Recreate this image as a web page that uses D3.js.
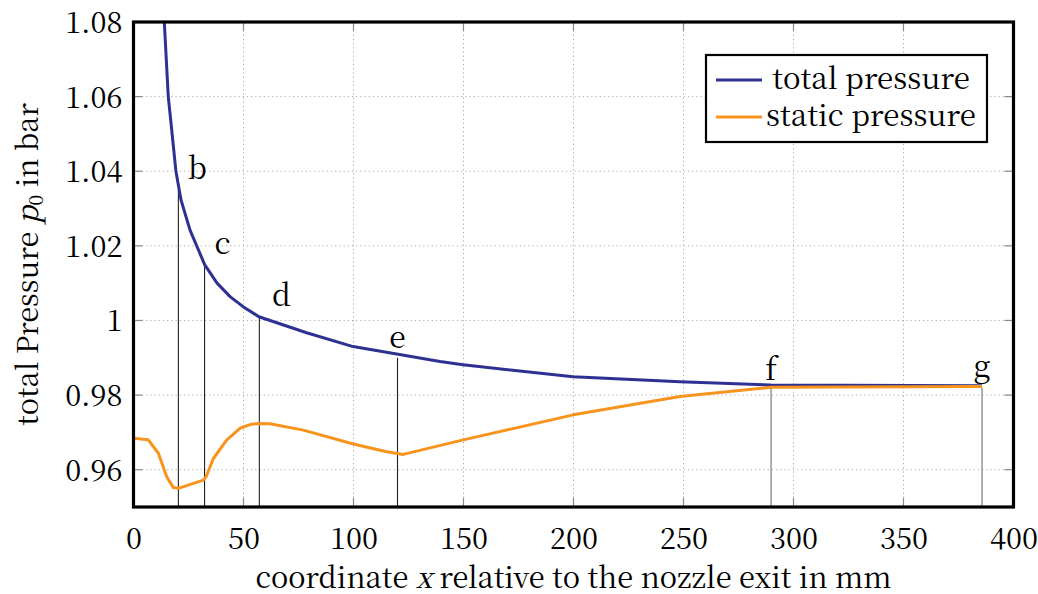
<!DOCTYPE html>
<html>
<head>
<meta charset="utf-8">
<script src="https://cdn.jsdelivr.net/npm/d3@7"></script>
<style>
  html, body { margin: 0; padding: 0; background: #fff; }
</style>
</head>
<body>
<svg id="chart" width="1038" height="594"></svg>
<script>
// Distance from the nozzle exit (mm) and pressures (bar)
const totalX = [14.0, 15.8, 16.6, 19.3, 21.6, 25.7, 32.4, 38.0, 43.9, 49.8, 57.0, 78.7, 99.8, 119.6, 139.3, 149.8, 199.8, 248.4, 289.8, 385.7];
const totalP = [1.080, 1.060, 1.0555, 1.0399, 1.0323, 1.0242, 1.0149, 1.0100, 1.0064, 1.0037, 1.0010, 0.9967, 0.9930, 0.9910, 0.9890, 0.9881, 0.9849, 0.9836, 0.9827, 0.9825];

const staticX = [0, 6.7, 11.3, 15.1, 18.1, 20.4, 31.7, 33.0, 36.3, 42.4, 48.4, 53.0, 57.2, 62.0, 77.2, 99.9, 115.1, 122.6, 149.9, 199.9, 248.4, 289.8, 385.7];
const staticP = [0.9684, 0.9680, 0.9644, 0.9581, 0.9552, 0.9550, 0.9572, 0.9581, 0.9630, 0.9680, 0.9711, 0.9721, 0.9724, 0.9723, 0.9706, 0.9669, 0.9648, 0.9641, 0.9680, 0.9747, 0.9796, 0.9821, 0.9823];

// Measurement stations
const stationNames = ["b", "c", "d", "e", "f", "g"];
const stationX = [20.4, 32.3, 57.2, 120.0, 289.8, 385.7];
const stationTop = [1.035, 1.0149, 1.001, 0.990, 0.9819, 0.9819];

const xTicks = [0, 50, 100, 150, 200, 250, 300, 350, 400];
const yTicks = [0.96, 0.98, 1.00, 1.02, 1.04, 1.06, 1.08];

const seriesNames = ["total pressure", "static pressure"];
const seriesColors = ["#2e3192", "#f7941d"];

const FONT = '"Noto Serif CJK SC", "Liberation Serif", serif';

const margin = { left: 133.5, top: 22, right: 24.5, bottom: 87 };
const W = 1038, H = 594;
const iw = W - margin.left - margin.right;
const ih = H - margin.top - margin.bottom;

const svg = d3.select("#chart").attr("font-family", FONT);
const g = svg.append("g").attr("transform", `translate(${margin.left},${margin.top})`);

const x = d3.scaleLinear().domain([0, 400]).range([0, iw]);
const y = d3.scaleLinear().domain([0.95, 1.08]).range([ih, 0]);

// dotted grid
g.append("g").selectAll("line").data(xTicks.slice(1, -1)).join("line")
  .attr("x1", d => x(d)).attr("x2", d => x(d)).attr("y1", 0).attr("y2", ih)
  .attr("stroke", "#aaaaaa").attr("stroke-width", 1).attr("stroke-dasharray", "1.2,3");
g.append("g").selectAll("line").data(yTicks.slice(0, -1)).join("line")
  .attr("x1", 0).attr("x2", iw).attr("y1", d => y(d)).attr("y2", d => y(d))
  .attr("stroke", "#aaaaaa").attr("stroke-width", 1).attr("stroke-dasharray", "1.2,3");

// inner tick marks on all four sides
const tl = 9;
const tk = g.append("g").attr("stroke", "#8a8a8a").attr("stroke-width", 1.2);
xTicks.forEach(t => {
  tk.append("line").attr("x1", x(t)).attr("x2", x(t)).attr("y1", ih).attr("y2", ih - tl);
  tk.append("line").attr("x1", x(t)).attr("x2", x(t)).attr("y1", 0).attr("y2", tl);
});
yTicks.forEach(t => {
  tk.append("line").attr("x1", 0).attr("x2", tl).attr("y1", y(t)).attr("y2", y(t));
  tk.append("line").attr("x1", iw).attr("x2", iw - tl).attr("y1", y(t)).attr("y2", y(t));
});

// station markers
g.append("g").selectAll("line").data(stationX).join("line")
  .attr("x1", d => x(d)).attr("x2", d => x(d))
  .attr("y1", ih).attr("y2", (d, i) => y(stationTop[i]))
  .attr("stroke", (d, i) => i >= 4 ? "#6e6e6e" : "#222").attr("stroke-width", 1.1);

// curves
const line = d3.line().x(d => x(d[0])).y(d => y(d[1]));
const totalData = totalX.map((v, i) => [v, totalP[i]]);
const staticData = staticX.map((v, i) => [v, staticP[i]]);

g.append("path").datum(totalData).attr("d", line)
  .attr("fill", "none").attr("stroke", seriesColors[0]).attr("stroke-width", 3).attr("stroke-linejoin", "round");
g.append("path").datum(staticData).attr("d", line)
  .attr("fill", "none").attr("stroke", seriesColors[1]).attr("stroke-width", 3).attr("stroke-linejoin", "round");

// station letters
const labelDx = [19, 18, 22, 0, 0, 0];
const labelDy = [-11, -11, -11, -10, -8, -11];
g.append("g").selectAll("text").data(stationNames).join("text")
  .attr("x", (d, i) => x(stationX[i]) + labelDx[i])
  .attr("y", (d, i) => y(stationTop[i]) + labelDy[i])
  .attr("text-anchor", "middle").attr("font-size", 30)
  .text(d => d);

// frame
g.append("rect").attr("x", 0).attr("y", 0).attr("width", iw).attr("height", ih)
  .attr("fill", "none").attr("stroke", "#000").attr("stroke-width", 3.2);

// axis tick labels
const xAxis = d3.axisBottom(x).tickValues(xTicks).tickSize(0).tickPadding(0).tickFormat(d3.format("d"));
const xa = g.append("g").attr("transform", `translate(0,${ih})`).call(xAxis);
xa.attr("font-family", FONT).attr("font-size", 29);
xa.select(".domain").remove();
xa.selectAll("text").attr("dy", null).attr("y", 42);

const yAxis = d3.axisLeft(y).tickValues(yTicks).tickSize(0).tickPadding(0).tickFormat(d => d3.format("~g")(d));
const ya = g.append("g").call(yAxis);
ya.attr("font-family", FONT).attr("font-size", 29);
ya.select(".domain").remove();
ya.selectAll("text").attr("x", -11).attr("dy", "0.36em");

// axis titles
const xt = svg.append("text").attr("x", margin.left + iw / 2).attr("y", 588)
  .attr("text-anchor", "middle").attr("font-size", 29);
xt.append("tspan").text("coordinate ");
xt.append("tspan").attr("font-style", "italic").text("x");
xt.append("tspan").text(" relative to the nozzle exit in mm");

const yt = svg.append("text").attr("transform", `translate(38,${margin.top + ih / 2}) rotate(-90)`)
  .attr("text-anchor", "middle").attr("font-size", 29);
yt.append("tspan").text("total Pressure ");
yt.append("tspan").attr("font-style", "italic").text("p");
yt.append("tspan").attr("font-size", 20).attr("dy", 5).text("0");
yt.append("tspan").attr("dy", -5).text(" in bar");

// legend
const lg = svg.append("g").attr("transform", "translate(706,55)");
lg.append("rect").attr("width", 281).attr("height", 87)
  .attr("fill", "#fff").attr("stroke", "#000").attr("stroke-width", 2.2);
seriesNames.forEach((name, i) => {
  const cy = 25 + i * 37;
  lg.append("line").attr("x1", 10).attr("x2", 56).attr("y1", cy).attr("y2", cy)
    .attr("stroke", seriesColors[i]).attr("stroke-width", 3);
  lg.append("text").attr("x", 165).attr("y", cy).attr("dy", "0.32em")
    .attr("text-anchor", "middle").attr("font-size", 29.5).text(name);
});
</script>
</body>
</html>
